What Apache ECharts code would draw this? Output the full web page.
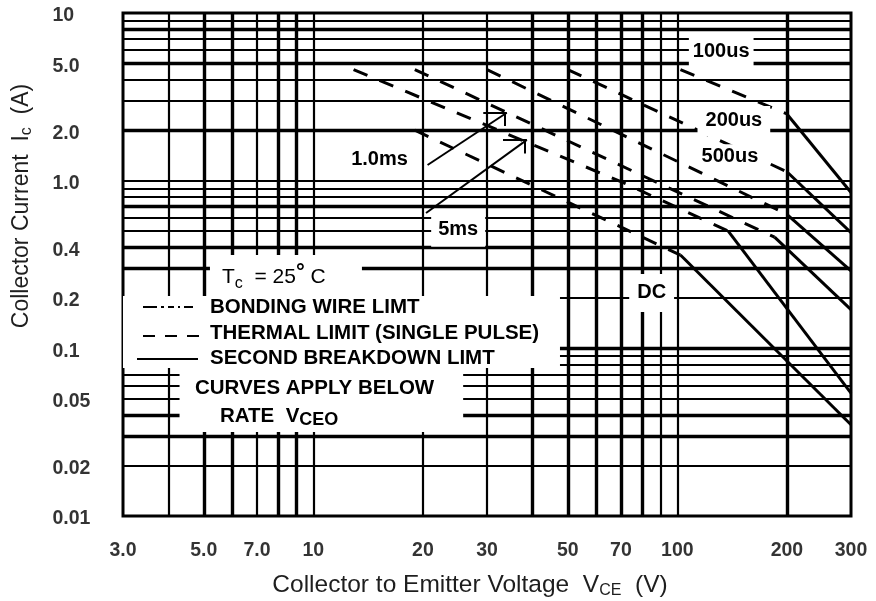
<!DOCTYPE html>
<html>
<head>
<meta charset="utf-8">
<script src="https://cdn.jsdelivr.net/npm/echarts@6/dist/echarts.min.js"></script>
<style>
  html, body { margin: 0; padding: 0; background: #fff; }
  #chart { width: 876px; height: 601px; }
</style>
</head>
<body>
<div id="chart"></div>
<script>
// ---- axis ticks and grid ----
const xTickValues = [3, 5, 7, 10, 20, 30, 50, 70, 100, 200, 300];
const xTickLabels = ['3.0', '5.0', '7.0', '10', '20', '30', '50', '70', '100', '200', '300'];
const yTickValues = [10, 5, 2, 1, 0.4, 0.2, 0.1, 0.05, 0.02, 0.01];
const yTickLabels = ['10', '5.0', '2.0', '1.0', '0.4', '0.2', '0.1', '0.05', '0.02', '0.01'];
const xGridValues = [4, 5, 6, 7, 8, 9, 10, 20, 30, 40, 50, 60, 70, 80, 90, 100, 200];
const yGridValues = [9, 8, 7, 6, 5, 4, 3, 2, 1, 0.9, 0.8, 0.7, 0.6, 0.5, 0.4, 0.3, 0.2,
                     0.1, 0.09, 0.08, 0.07, 0.06, 0.05, 0.04, 0.03, 0.02];

// ---- SOA boundaries: [V_CE (V), I_C (A)] ----
// thermal limit (single pulse) segments
const thermal100us = [[102, 4.6], [200, 2.5]];
const thermal200us = [[50, 4.6], [200, 1.13]];
const thermal500us = [[30, 4.6], [200, 0.63]];
const thermal1ms   = [[19, 4.6], [185, 0.46]];
const thermal5ms   = [[12.9, 4.6], [70.5, 0.98], [138, 0.5]];
const thermalDC    = [[19, 2.0], [102, 0.36]];
// second breakdown segments
const breakdown100us = [[200, 2.5], [300, 0.85]];
const breakdown200us = [[200, 1.13], [300, 0.49]];
const breakdown500us = [[200, 0.63], [300, 0.29]];
const breakdown1ms   = [[185, 0.46], [300, 0.17]];
const breakdown5ms   = [[138, 0.5], [300, 0.054]];
const breakdownDC    = [[102, 0.36], [300, 0.035]];

// ---- styling ----
const FONT = '"Liberation Sans", Arial, Helvetica, sans-serif';
const heavyX = new Set([5, 6, 8, 9, 40, 50, 60, 70, 80, 200]);
const heavyY = new Set([8, 5, 2, 0.7, 0.4, 0.3, 0.1, 0.04, 0.03]);
const DASH = [15, 13];

function curve(name, data, dashed) {
  return {
    name: name,
    type: 'line',
    data: data,
    z: 3,
    silent: true,
    symbol: 'none',
    showSymbol: false,
    lineStyle: { color: '#000', width: 3, type: dashed ? DASH : 'solid', cap: 'butt' }
  };
}

// curve names placed on the chart, anchored in data space
const curveTags = [
  { text: '100us', at: [132, 5.9],  pad: [5, 4] },
  { text: '200us', at: [143, 2.27], pad: [5, 8] },
  { text: '500us', at: [139.5, 1.4], pad: [2, 3] },
  { text: '1.0ms', at: [15.2, 1.33], pad: [2, 3] },
  { text: '5ms',   at: [25, 0.51],  pad: [7, 7] },
  { text: 'DC',    at: [85, 0.214], pad: [11, 8, 7, 8] }
];

// arrows pointing at the 1.0ms and 5ms boundaries
const arrowSegs = [
  [[20.6, 1.24], [34, 2.54]], [[29.3, 2.54], [34, 2.54]], [[33.6, 2.54], [33.6, 2.12]],
  [[20.4, 0.642], [38.6, 1.75]], [[33.2, 1.75], [38.6, 1.75]], [[38.1, 1.75], [38.1, 1.45]]
];

// white areas behind the notes block
const noteAreas = [
  [[5.2, 0.36], [13.6, 0.205]],
  [[3, 0.205], [47.6, 0.0764]],
  [[4.29, 0.0764], [25.8, 0.0317]]
];

const chart = echarts.init(document.getElementById('chart'), null, { renderer: 'canvas' });

const series = [
  {
    name: 'grid',
    type: 'line',
    data: [],
    silent: true,
    markLine: {
      z: 1,
      silent: true,
      animation: false,
      symbol: ['none', 'none'],
      label: { show: false },
      emphasis: { disabled: true },
      data: xGridValues.map(v => ({ xAxis: v, lineStyle: { color: '#000', type: 'solid', width: heavyX.has(v) ? 3.4 : 2.2 } }))
        .concat(yGridValues.map(v => ({ yAxis: v, lineStyle: { color: '#000', type: 'solid', width: heavyY.has(v) ? 3.4 : 2.2 } })))
    }
  },
  {
    name: 'notesBackground',
    type: 'line',
    data: [],
    silent: true,
    markArea: {
      z: 2,
      silent: true,
      animation: false,
      itemStyle: { color: '#fff', opacity: 1 },
      emphasis: { disabled: true },
      data: noteAreas.map(a => [{ coord: a[0] }, { coord: a[1] }])
    }
  },
  curve('100us thermal', thermal100us, true),
  curve('200us thermal', thermal200us, true),
  curve('500us thermal', thermal500us, true),
  curve('1.0ms thermal', thermal1ms, true),
  curve('5ms thermal', thermal5ms, true),
  curve('DC thermal', thermalDC, true),
  curve('100us breakdown', breakdown100us, false),
  curve('200us breakdown', breakdown200us, false),
  curve('500us breakdown', breakdown500us, false),
  curve('1.0ms breakdown', breakdown1ms, false),
  curve('5ms breakdown', breakdown5ms, false),
  curve('DC breakdown', breakdownDC, false),
  {
    name: 'annotations',
    type: 'line',
    data: [],
    silent: true,
    markLine: {
      z: 4,
      silent: true,
      animation: false,
      symbol: ['none', 'none'],
      label: { show: false },
      emphasis: { disabled: true },
      lineStyle: { color: '#000', width: 2, type: 'solid' },
      data: arrowSegs.map(s => [{ coord: s[0] }, { coord: s[1] }])
    },
    markPoint: {
      z: 10,
      silent: true,
      animation: false,
      symbol: 'circle',
      symbolSize: 0,
      itemStyle: { color: 'rgba(0,0,0,0)' },
      emphasis: { disabled: true },
      label: {
        show: true, position: 'inside', color: '#000', fontFamily: FONT,
        fontWeight: 'bold', fontSize: 20, backgroundColor: '#fff'
      },
      data: curveTags.map(t => ({ coord: t.at, value: t.text, label: { formatter: t.text, padding: t.pad } }))
    }
  },
  {
    name: 'xTicks',
    type: 'scatter',
    silent: true,
    clip: false,
    z: 10,
    symbolSize: 1,
    itemStyle: { color: 'rgba(0,0,0,0)' },
    data: xTickValues.map(v => [v, 0.01]),
    label: {
      show: true, position: 'bottom', distance: 24, color: '#000',
      fontFamily: FONT, fontWeight: 'bold', fontSize: 19.5,
      formatter: p => xTickLabels[p.dataIndex]
    }
  },
  {
    name: 'yTicks',
    type: 'scatter',
    silent: true,
    clip: false,
    z: 10,
    symbolSize: 1,
    itemStyle: { color: 'rgba(0,0,0,0)' },
    data: yTickValues.map(v => [3, v]),
    label: {
      show: true, position: 'left', distance: 70, align: 'left', offset: [0, 3], color: '#000',
      fontFamily: FONT, fontWeight: 'bold', fontSize: 19.5,
      formatter: p => yTickLabels[p.dataIndex]
    }
  }
];

const boldTxt = (x, y, text, size) => ({
  type: 'text', x: x, y: y, z: 20, silent: true,
  style: { text: text, fill: '#000', fontFamily: FONT, fontWeight: 'bold', fontSize: size || 20.5, verticalAlign: 'middle', align: 'left' }
});

const graphic = [
  // axis titles
  {
    type: 'text', x: 470, y: 585, z: 20, silent: true,
    style: {
      text: '{a|Collector to Emitter Voltage  V}{b|CE}{a|  (V)}',
      align: 'center', verticalAlign: 'middle',
      rich: {
        a: { fontFamily: FONT, fontSize: 24.5, fill: '#1e1e1e', color: '#1e1e1e', lineHeight: 27 },
        b: { fontFamily: FONT, fontSize: 16, fill: '#1e1e1e', color: '#1e1e1e', lineHeight: 15, verticalAlign: 'bottom' }
      }
    }
  },
  {
    type: 'text', x: 22, y: 206, rotation: Math.PI / 2, z: 20, silent: true,
    style: {
      text: '{a|Collector Current  I}{b|c}{a|  (A)}',
      align: 'center', verticalAlign: 'middle',
      rich: {
        a: { fontFamily: FONT, fontSize: 23, fill: '#1e1e1e', color: '#1e1e1e', lineHeight: 26 },
        b: { fontFamily: FONT, fontSize: 16, fill: '#1e1e1e', color: '#1e1e1e', lineHeight: 15, verticalAlign: 'bottom' }
      }
    }
  },
  // notes block
  {
    type: 'text', x: 222, y: 277, z: 20, silent: true,
    style: {
      text: '{t|T}{s|c}{t|  = 25}{d|°}{t| C}',
      align: 'left', verticalAlign: 'middle',
      rich: {
        t: { fontFamily: FONT, fontSize: 21, fill: '#000', color: '#000', lineHeight: 24 },
        s: { fontFamily: FONT, fontSize: 16, fill: '#000', color: '#000', lineHeight: 16, verticalAlign: 'bottom' },
        d: { fontFamily: FONT, fontSize: 22, fontWeight: 'bold', fill: '#000', color: '#000', lineHeight: 30, verticalAlign: 'top' }
      }
    }
  },
  { type: 'line', z: 20, silent: true, shape: { x1: 143, y1: 307, x2: 193, y2: 307 },
    style: { stroke: '#000', lineWidth: 2, lineDash: [14, 4, 3, 4, 6, 4, 2, 4] } },
  boldTxt(210, 307, 'BONDING WIRE LIMT'),
  { type: 'line', z: 20, silent: true, shape: { x1: 143, y1: 336, x2: 200, y2: 336 },
    style: { stroke: '#000', lineWidth: 2, lineDash: [12, 10] } },
  boldTxt(210, 333, 'THERMAL LIMIT (SINGLE PULSE)'),
  { type: 'line', z: 20, silent: true, shape: { x1: 137, y1: 359, x2: 198, y2: 359 },
    style: { stroke: '#000', lineWidth: 2 } },
  boldTxt(210, 358, 'SECOND BREAKDOWN LIMT'),
  boldTxt(195, 388, 'CURVES APPLY BELOW'),
  {
    type: 'text', x: 220, y: 416, z: 20, silent: true,
    style: {
      text: '{t|RATE  V}{s|CEO}',
      align: 'left', verticalAlign: 'middle',
      rich: {
        t: { fontFamily: FONT, fontSize: 20.5, fontWeight: 'bold', fill: '#000', color: '#000', lineHeight: 26 },
        s: { fontFamily: FONT, fontSize: 18, fontWeight: 'bold', fill: '#000', color: '#000', lineHeight: 18, verticalAlign: 'bottom' }
      }
    }
  }
];

chart.setOption({
  animation: false,
  backgroundColor: '#fff',
  grid: {
    left: 123, right: 25, top: 13, bottom: 85,
    show: true, borderColor: '#000', borderWidth: 3, backgroundColor: '#fff',
    containLabel: false, outerBoundsMode: 'none'
  },
  xAxis: {
    type: 'log', logBase: 10, min: 3, max: 300,
    axisLine: { show: false }, axisTick: { show: false }, axisLabel: { show: false },
    splitLine: { show: false }, minorTick: { show: false }, minorSplitLine: { show: false }
  },
  yAxis: {
    type: 'log', logBase: 10, min: 0.01, max: 10,
    axisLine: { show: false }, axisTick: { show: false }, axisLabel: { show: false },
    splitLine: { show: false }, minorTick: { show: false }, minorSplitLine: { show: false }
  },
  series: series,
  graphic: graphic
});
</script>
</body>
</html>
